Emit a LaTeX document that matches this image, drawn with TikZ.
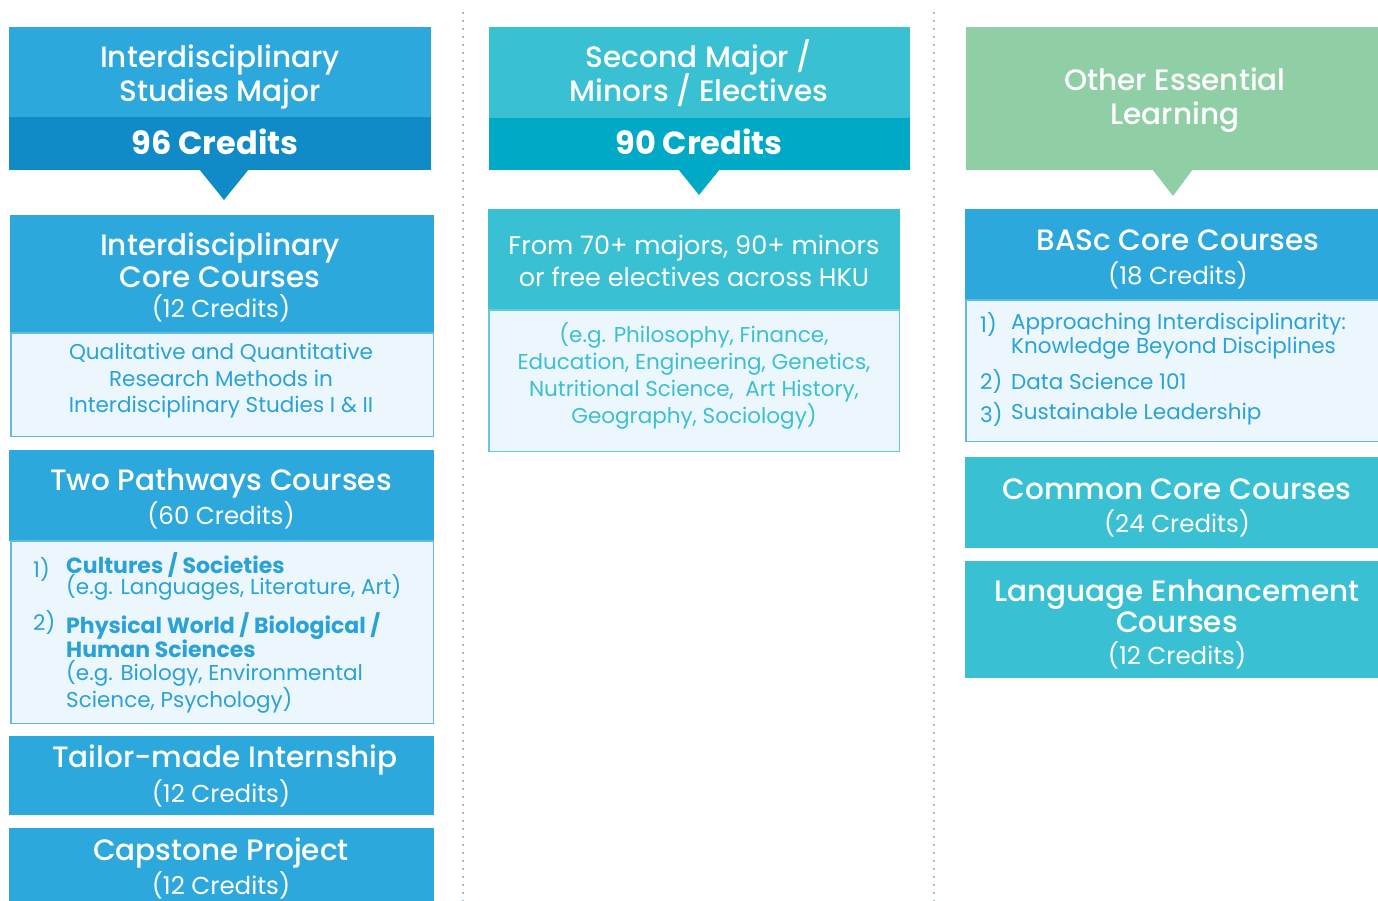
\documentclass[tikz,border=0pt]{standalone}
\usepackage{fontspec}
\setmainfont{Poppins}
\newfontfamily\medfont{Poppins Medium}
\definecolor{blueA}{HTML}{2DA8DC}
\definecolor{blueB}{HTML}{118BC8}
\definecolor{tealA}{HTML}{3AC0D3}
\definecolor{tealB}{HTML}{00AAC7}
\definecolor{greenA}{HTML}{90CFA6}
\definecolor{pale}{HTML}{EBF6FD}
\definecolor{lineblue}{HTML}{62BAE2}
\definecolor{lineteal}{HTML}{62CADB}
\definecolor{txtblue}{HTML}{2AA2D8}
\definecolor{txtteal}{HTML}{3CBFD3}
\definecolor{dotc}{HTML}{A7B8C6}
\tikzset{
  hd/.style={text=white, align=center, inner sep=0pt, font=\medfont\fontsize{29.5}{34}\selectfont},
  hdb/.style={text=white, align=center, inner sep=0pt, font=\bfseries\fontsize{32}{34}\selectfont},
  cred/.style={text=white, align=center, inner sep=0pt, font=\fontsize{24.5}{30}\selectfont},
  bodyb/.style={text=txtblue, align=center, inner sep=0pt, font=\fontsize{21.5}{26.5}\selectfont},
  bodyt/.style={text=txtteal, align=center, inner sep=0pt, font=\fontsize{21.5}{27}\selectfont},
  lst/.style={text=txtblue, align=left, inner sep=0pt, anchor=west, font=\fontsize{21.5}{24}\selectfont},
  dotline/.style={draw=dotc, line width=2pt, dash pattern=on 2pt off 6pt}
}
\begin{document}
\lineskiplimit=-100pt \lineskip=0pt
\begin{tikzpicture}[x=1pt,y=-1pt]
\useasboundingbox (0,0) rectangle (1378,901);
% dotted separators
\coordinate (d1a) at (463,12); \coordinate (d1b) at (463,901);
\coordinate (d2a) at (934,12); \coordinate (d2b) at (934,901);
\draw[dotline] (d1a) -- (d1b);
\draw[dotline] (d2a) -- (d2b);

% ===== left column =====
\fill[blueA] (9,27) rectangle (431,117);
\fill[blueB] (9,117) rectangle (431,170);
\fill[blueB] (199,169) -- (249,169) -- (224,200) -- cycle;
\node[hd] (lh) at (220,77.5) {Interdisciplinary\\Studies Major};
\node[hdb] (lc) at (215,142) {96 Credits};

\fill[blueA] (10,215) rectangle (434,333);
\filldraw[fill=pale, draw=lineblue, line width=1.5pt] (10.75,333) rectangle (433.25,436.25);
\node[hd, font=\medfont\fontsize{29.5}{32}\selectfont] (ic) at (220,260) {Interdisciplinary\\Core Courses};
\node[cred] (icc) at (221,308) {(12 Credits)};
\node[bodyb] (icb) at (221,381) {Qualitative and Quantitative\\Research Methods in\\Interdisciplinary Studies I \& II};

\fill[blueA] (9,450) rectangle (434,541);
\filldraw[fill=pale, draw=lineblue, line width=1.5pt] (10.75,541) rectangle (433.25,723.25);
\node[hd] (tp) at (221,483) {Two Pathways Courses};
\node[cred] (tpc) at (221,515) {(60 Credits)};
\node[lst] (n1) at (33,569) {1)};
\node[lst, font=\bfseries\fontsize{22}{24}\selectfont] (p1) at (66,565) {Cultures / Societies};
\node[lst] (p1e) at (66,587) {(e.g. Languages, Literature, Art)};
\node[lst] (n2) at (33,622) {2)};
\node[lst, font=\bfseries\fontsize{22}{24}\selectfont] (p2) at (66,635) {Physical World / Biological /\\Human Sciences};
\node[lst, font=\fontsize{21.5}{27}\selectfont] (p2e) at (66,687) {(e.g. Biology, Environmental\\Science, Psychology)};

\fill[blueA] (9,736) rectangle (434,815);
\node[hd] (ti) at (225,760) {Tailor-made Internship};
\node[cred] (tic) at (221,793) {(12 Credits)};

\fill[blueA] (9,828) rectangle (434,901);
\node[hd] (cp) at (221,853) {Capstone Project};
\node[cred] (cpc) at (221,885) {(12 Credits)};

% ===== middle column =====
\fill[tealA] (489,27) rectangle (910,118);
\fill[tealB] (489,118) rectangle (910,170);
\fill[tealB] (678,169) -- (720,169) -- (699,195) -- cycle;
\node[hd] (mh) at (699,73) {Second Major /\\Minors / Electives};
\node[hdb] (mc) at (699,142) {90 Credits};

\fill[tealA] (488,209) rectangle (900,310);
\filldraw[fill=pale, draw=lineteal, line width=1.5pt] (488.75,310) rectangle (899.25,451.25);
\node[cred, font=\fontsize{25.5}{32}\selectfont] (mf) at (694,261) {From 70+ majors, 90+ minors\\or free electives across HKU};
\node[bodyt] (mb) at (694,376) {(e.g. Philosophy, Finance,\\Education, Engineering, Genetics,\\Nutritional Science,\ \ Art History,\\Geography, Sociology)};

% ===== right column =====
\fill[greenA] (966,27) rectangle (1378,170);
\fill[greenA] (1152,169) -- (1193,169) -- (1173,196) -- cycle;
\node[hd] (rh) at (1175,100) {Other Essential\\Learning};

\fill[blueA] (965,209) rectangle (1378,300);
\filldraw[fill=pale, draw=lineblue, line width=1.5pt] (965.75,300) rectangle (1380,441.25);
\node[hd] (bc) at (1178,240) {BASc Core Courses};
\node[cred] (bcc) at (1178,275) {(18 Credits)};
\node[lst] (r1) at (980,324) {1)};
\node[lst] (r1t) at (1011,336) {Approaching Interdisciplinarity:\\Knowledge Beyond Disciplines};
\node[lst] (r2) at (980,381) {2)};
\node[lst] (r2t) at (1011,381) {Data Science 101};
\node[lst] (r3) at (980,414) {3)};
\node[lst] (r3t) at (1011,414) {Sustainable Leadership};

\fill[tealA] (965,457) rectangle (1378,548);
\node[hd] (cc) at (1177,489) {Common Core Courses};
\node[cred] (ccc) at (1177,523) {(24 Credits)};

\fill[tealA] (965,561) rectangle (1378,678);
\node[hd, font=\medfont\fontsize{29.5}{31}\selectfont] (le) at (1177,606) {Language Enhancement\\Courses};
\node[cred] (lec) at (1177,655) {(12 Credits)};
\end{tikzpicture}
\end{document}
